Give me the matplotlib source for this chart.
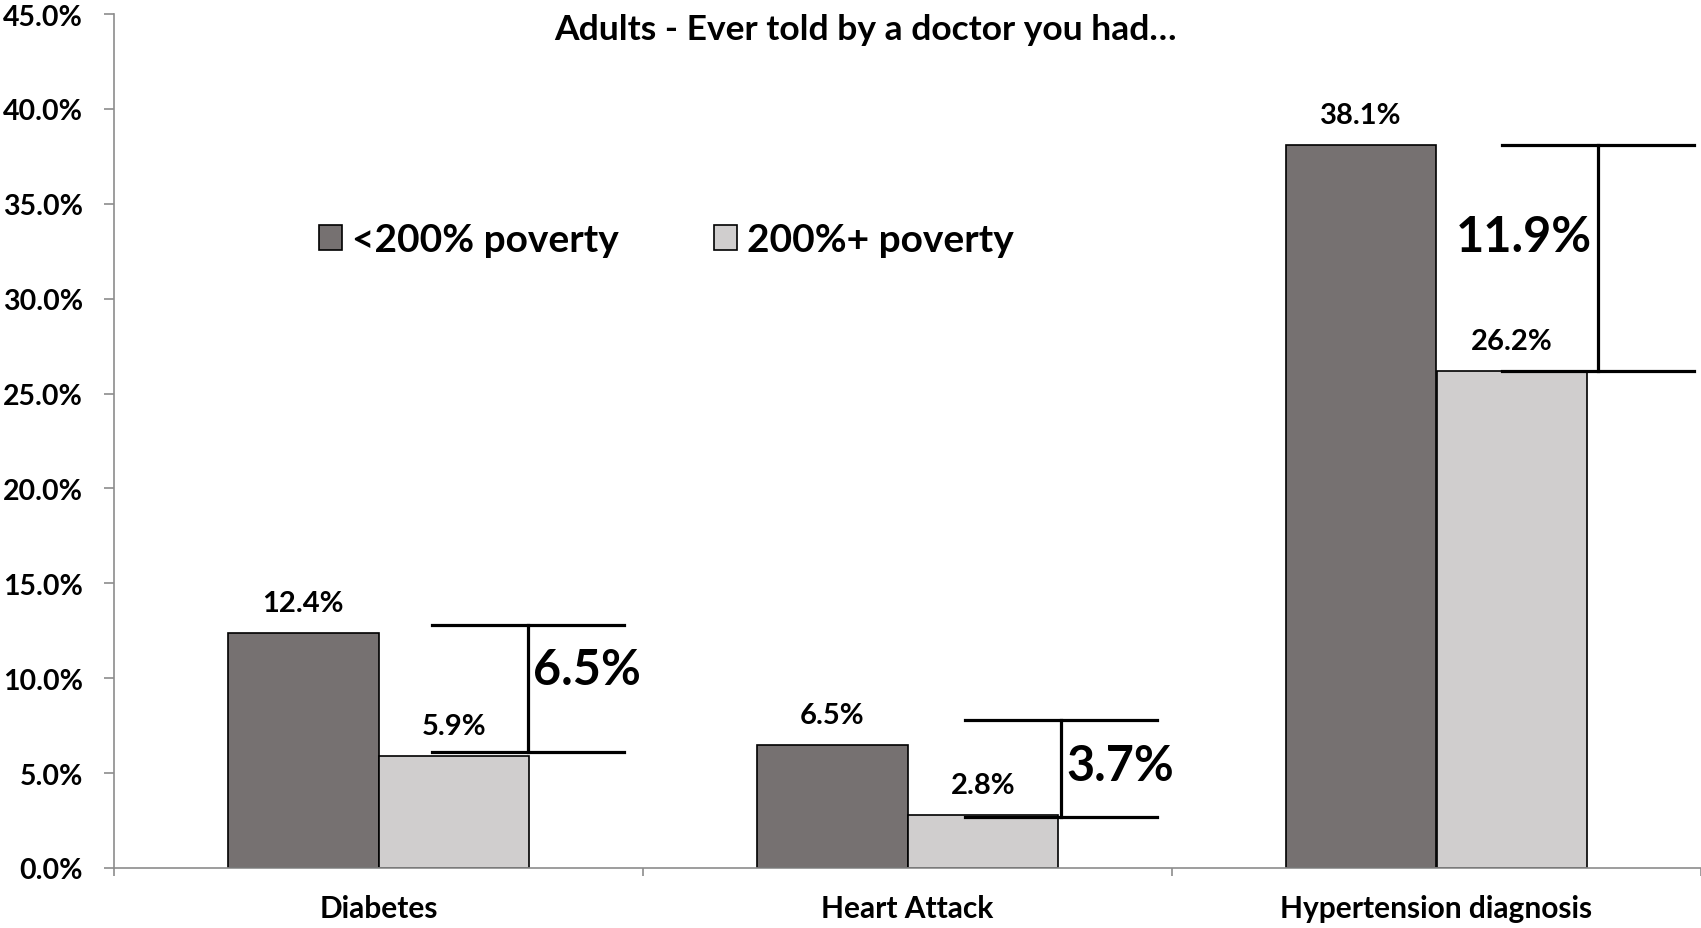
import matplotlib
matplotlib.use("Agg")
import matplotlib.pyplot as plt
from matplotlib.lines import Line2D
from matplotlib.patches import Patch
import numpy as np

# Data
categories = ["Diabetes", "Heart Attack", "Hypertension diagnosis"]
below_200_poverty = [12.4, 6.5, 38.1]
above_200_poverty = [5.9, 2.8, 26.2]
series_names = ["<200% poverty", "200%+ poverty"]
y_ticks = [0, 5, 10, 15, 20, 25, 30, 35, 40, 45]

# Bracket extents (top / bottom) for the gap annotations
bracket_top = [12.8, 7.8, 38.1]
bracket_bottom = [6.1, 2.7, 26.2]

title = "Adults - Ever told by a doctor you had\u2026"

# Styling
DARK = "#767171"
LIGHT = "#D0CECE"
AXIS_GRAY = "#8C8C8C"
FONT = "Lato"

plt.rcParams["font.family"] = [FONT, "DejaVu Sans"]
plt.rcParams["font.weight"] = "bold"

fig = plt.figure(figsize=(17.01, 9.29), dpi=100)
ax = fig.add_axes([114 / 1701, 1 - 869 / 929, 1 - 114 / 1701, (869 - 15) / 929])

x = np.arange(len(categories))
w = 0.285
ax.bar(x - w / 2, below_200_poverty, width=w, color=DARK, edgecolor="black", linewidth=1.2, zorder=2)
ax.bar(x + w / 2, above_200_poverty, width=w, color=LIGHT, edgecolor="black", linewidth=1.2, zorder=2)

# Value labels above bars
for xi, v in zip(x - w / 2, below_200_poverty):
    ax.annotate(f"{v:.1f}%", (xi, v), xytext=(0, 21.6), textcoords="offset points",
                ha="center", va="center", fontsize=21, fontweight="bold")
for xi, v in zip(x + w / 2, above_200_poverty):
    ax.annotate(f"{v:.1f}%", (xi, v), xytext=(0, 21.6), textcoords="offset points",
                ha="center", va="center", fontsize=21, fontweight="bold")

# Gap brackets
bracket_left = [0.101, 1.109, 2.124]
bracket_width = 0.363
label_side = ["right", "right", "left"]
label_y = [10.47, 5.42, 33.26]
for i in range(len(categories)):
    l = bracket_left[i]
    r = l + bracket_width
    m = (l + r) / 2
    top, bot = bracket_top[i], bracket_bottom[i]
    for yy in (top, bot):
        ax.add_line(Line2D([l, r], [yy, yy], color="black", lw=2.3, zorder=3))
    ax.add_line(Line2D([m, m], [bot, top], color="black", lw=2.3, zorder=3))
    gap = below_200_poverty[i] - above_200_poverty[i]
    if label_side[i] == "right":
        ax.text(m + 0.01, label_y[i], f"{gap:.1f}%", ha="left", va="center",
                fontsize=35, fontweight="bold")
    else:
        ax.text(m - 0.012, label_y[i], f"{gap:.1f}%", ha="right", va="center",
                fontsize=35, fontweight="bold")

# Axes
ax.set_xlim(-0.5, len(categories) - 0.5)
ax.set_ylim(0, 45)
ax.set_yticks(y_ticks)
ax.set_yticklabels([f"{t:.1f}%" for t in y_ticks], fontsize=20.5, fontweight="bold")
ax.set_xticks(x)
ax.set_xticklabels(categories, fontsize=21.5, fontweight="bold")
ax.set_xticks(np.arange(len(categories) + 1) - 0.5, minor=True)
ax.tick_params(axis="x", which="major", length=0, pad=19)
ax.tick_params(axis="x", which="minor", length=5.8, color=AXIS_GRAY, width=1.2)
ax.tick_params(axis="y", length=7.2, color=AXIS_GRAY, width=1.2, pad=15)
for side in ("top", "right"):
    ax.spines[side].set_visible(False)
for side in ("left", "bottom"):
    ax.spines[side].set_color(AXIS_GRAY)
    ax.spines[side].set_linewidth(1.2)

# Title inside the plot area
fig.text(865 / 1701, 1 - 30 / 929, title, ha="center", va="center",
         fontsize=25.5, fontweight="bold")

# Legend
handles = [Patch(facecolor=DARK, edgecolor="black", linewidth=1.2),
           Patch(facecolor=LIGHT, edgecolor="black", linewidth=1.2)]
leg = ax.legend(handles, series_names, ncol=2, frameon=False,
                loc="center left",
                prop={"family": FONT, "weight": "bold", "size": 28},
                handlelength=0.6, handleheight=0.6, handletextpad=0.25,
                columnspacing=2.45, borderaxespad=0, borderpad=0)
leg.set_bbox_to_anchor((319 / 1701, 1 - 241 / 929), transform=fig.transFigure)

fig.savefig("out.png", dpi=100)
